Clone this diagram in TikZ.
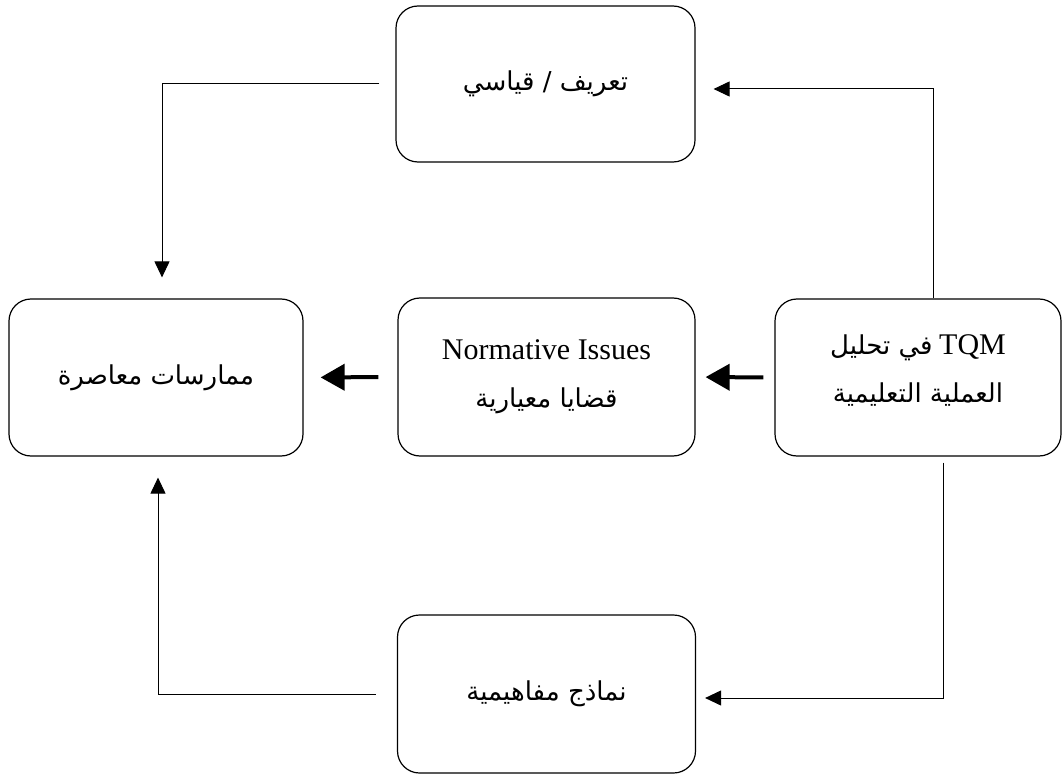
\documentclass[tikz,border=0pt]{standalone}
\usepackage{fontspec}
\setmainfont{Liberation Serif}
\newfontfamily\arabicfont[Script=Arabic]{DejaVu Sans}
\TeXXeTstate=1
\usetikzlibrary{arrows.meta}
\tikzset{
  box/.style={draw, line width=1.2pt, rounded corners=22pt, inner sep=0pt, align=center},
  thinarr/.style={draw, line width=1pt, -{Triangle[length=16pt,width=15pt]}},
  thickarr/.style={draw, line width=4pt, -{Triangle[length=24pt,width=26pt]}},
  ar/.style={font=\fontsize{26}{48}\selectfont, align=center}
}
\newcommand{\AR}[1]{{\arabicfont\beginR #1\endR}}
\newcommand{\LT}[1]{{\fontsize{30}{48}\selectfont #1}}
\begin{document}
\begin{tikzpicture}[x=1pt,y=-1pt]
\useasboundingbox (0,0) rectangle (1063,778);
\fill[white] (0,0) rectangle (1063,778);
\node[box, ar, minimum width=299pt, minimum height=156pt] (T) at (545.5,84) {\AR{تعريف / قياسي}};
\node[box, ar, minimum width=297pt, minimum height=158pt] (M) at (546.5,377) {\LT{Normative Issues}\\\AR{قضايا معيارية}};
\node[box, ar, minimum width=294pt, minimum height=157pt] (L) at (156,377.5) {\AR{ممارسات معاصرة}};
\node[box, minimum width=286pt, minimum height=157pt] (R) at (918,377.5) {};
\node[ar] (Rt) at ([yshift=7pt]R.center) {\beginR\beginL\LT{TQM}\endL\ {\arabicfont في تحليل}\endR\\\AR{العملية التعليمية}};
\node[box, ar, minimum width=298pt, minimum height=158pt] (B) at (546.5,694) {\AR{نماذج مفاهيمية}};
\coordinate (k1) at (933,89);
\coordinate (k2) at (162,84);
\coordinate (k3) at (943,698);
\coordinate (k4) at (158,694);
\draw[thinarr, shorten >=18pt] (R.north -| k1) -- (k1) -- (k1 -| T.east);
\draw[thinarr, shorten <=16pt, shorten >=21pt] (T.west |- k2) -- (k2) -- (k2 |- L.north);
\draw[thickarr, shorten <=11pt, shorten >=10pt] (R.west) -- (M.east);
\draw[thickarr, shorten <=19pt, shorten >=17pt] (M.west) -- (L.east);
\draw[thinarr, shorten <=6pt, shorten >=9pt] (R.south -| k3) -- (k3) -- (k3 -| B.east);
\draw[thinarr, shorten <=21pt, shorten >=21pt] (B.west |- k4) -- (k4) -- (k4 |- L.south);
\end{tikzpicture}
\end{document}
